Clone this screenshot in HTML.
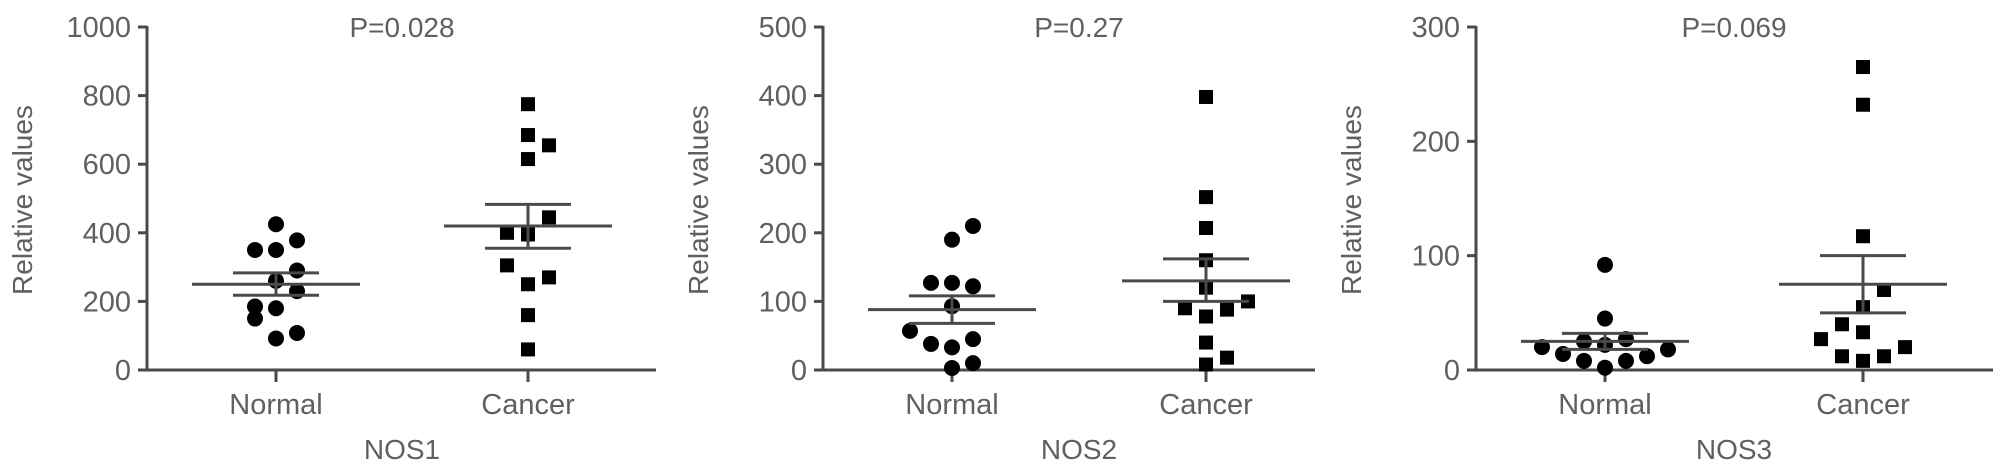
<!DOCTYPE html>
<html><head><meta charset="utf-8"><style>
html,body{margin:0;padding:0;background:#fff;}
svg{display:block;font-family:"Liberation Sans",Arial,sans-serif;}
</style></head><body>
<svg id="chart" width="2008" height="472" viewBox="0 0 2008 472" xmlns="http://www.w3.org/2000/svg"></svg>
<script>
const panelNames = ["NOS1","NOS2","NOS3"];
const pValues = ["P=0.028","P=0.27","P=0.069"];
const yMaxes = [1000,500,300];
const yTicks1 = [0,200,400,600,800,1000];
const yTicks2 = [0,100,200,300,400,500];
const yTicks3 = [0,100,200,300];
const categories = ["Normal","Cancer"];
// values
const nos1Normal = [425,378,350,350,290,260,230,185,180,150,108,92];
const nos1NormalJitter = [0,1,-1,0,1,0,1,-1,0,-1,1,0];
const nos1Cancer = [775,685,655,615,445,400,395,305,270,250,160,60];
const nos1CancerJitter = [0,0,1,0,1,-1,0,-1,1,0,0,0];
const nos2Normal = [210,190,127,127,122,93,57,38,45,33,10,3];
const nos2NormalJitter = [1,0,-1,0,1,0,-2,-1,1,0,1,0];
const nos2Cancer = [398,252,207,160,120,100,90,88,78,40,18,8];
const nos2CancerJitter = [0,0,0,0,0,2,-1,1,0,0,1,0];
const nos3Normal = [92,45,25,22,27,20,18,14,12,8,8,2];
const nos3NormalJitter = [0,0,-1,0,1,-3,3,-2,2,-1,1,0];
const nos3Cancer = [265,232,117,70,55,40,33,27,20,12,12,8];
const nos3CancerJitter = [0,0,0,1,0,-1,0,-2,2,-1,1,0];
const means = [[250,420],[88,130],[25,75]];
const semLow = [[218,355],[68,100],[18,50]];
const semHigh = [[283,483],[108,162],[32,100]];

const allTicks=[yTicks1,yTicks2,yTicks3];
const allPts=[[nos1Normal,nos1Cancer],[nos2Normal,nos2Cancer],[nos3Normal,nos3Cancer]];
const allJit=[[nos1NormalJitter,nos1CancerJitter],[nos2NormalJitter,nos2CancerJitter],[nos3NormalJitter,nos3CancerJitter]];
const axisXs=[147,823,1476], axisEnds=[656,1315,1993], cancerOff=[381,383,387];
const Y0=370, YTOP=27, NS="http://www.w3.org/2000/svg";
const svg=document.getElementById('chart');
function mk(tag,attrs,parent,text){const e=document.createElementNS(NS,tag);for(const k in attrs)e.setAttribute(k,attrs[k]);if(text!==undefined)e.textContent=text;parent.appendChild(e);return e;}
const AX='#4a4a4a', TX='#606060', SW=3;
for(let p=0;p<3;p++){
  const ax=axisXs[p];
  const y=v=>Y0-(v/yMaxes[p])*(Y0-YTOP);
  const cx=[ax+129, ax+cancerOff[p]];
  const g=mk('g',{},svg);
  
  
  let e=mk('line',{x1:ax,y1:YTOP-1,x2:ax,y2:Y0,stroke:AX,'stroke-width':SW},g);
  
  e=mk('line',{x1:ax-9,y1:Y0,x2:axisEnds[p],y2:Y0,stroke:AX,'stroke-width':SW},g);
  
  allTicks[p].forEach(t=>{
    mk('line',{x1:ax-9,y1:y(t),x2:ax,y2:y(t),stroke:AX,'stroke-width':SW},g);
    e=mk('text',{x:ax-16,y:y(t)+10,'text-anchor':'end','font-size':29,fill:TX},g,String(t));
    
  });
  e=mk('text',{transform:`translate(${ax-115},200) rotate(-90)`,'text-anchor':'middle','font-size':28,fill:TX},g,'Relative values');
  
  const mid=(cx[0]+cx[1])/2;
  e=mk('text',{x:mid,y:37,'text-anchor':'middle','font-size':28,fill:TX},g,pValues[p]);
  
  e=mk('text',{x:mid,y:459,'text-anchor':'middle','font-size':28,fill:TX},g,panelNames[p]);
  
  for(let c=0;c<2;c++){
    mk('line',{x1:cx[c],y1:Y0,x2:cx[c],y2:Y0+12,stroke:AX,'stroke-width':SW},g);
    e=mk('text',{x:cx[c],y:414,'text-anchor':'middle','font-size':29,fill:TX},g,categories[c]);
    
    allPts[p][c].forEach((v,i)=>{
      const px=cx[c]+allJit[p][c][i]*21, py=y(v);
      if(c===0){e=mk('circle',{cx:px,cy:py,r:8,fill:'#000'},g);}
      else{e=mk('rect',{x:px-7,y:py-7,width:14,height:14,fill:'#000'},g);}
      
      
    });
    e=mk('line',{x1:cx[c]-84,y1:y(means[p][c]),x2:cx[c]+84,y2:y(means[p][c]),stroke:AX,'stroke-width':SW},g);
    
    e=mk('line',{x1:cx[c],y1:y(semLow[p][c]),x2:cx[c],y2:y(semHigh[p][c]),stroke:AX,'stroke-width':SW},g);
    
    [semLow[p][c],semHigh[p][c]].forEach(s=>{
      e=mk('line',{x1:cx[c]-43,y1:y(s),x2:cx[c]+43,y2:y(s),stroke:AX,'stroke-width':SW},g);
      
    });
  }
}
</script>
</body></html>
